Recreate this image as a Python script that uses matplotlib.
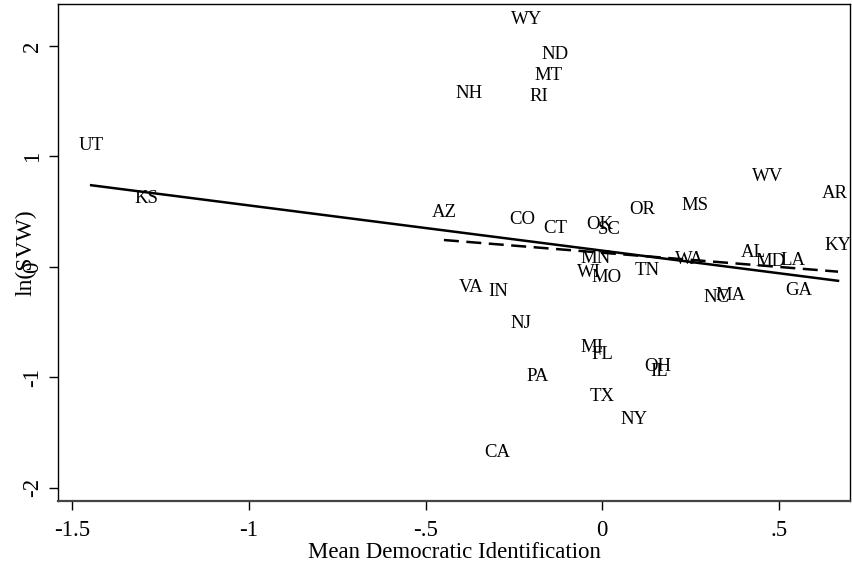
import matplotlib.pyplot as plt
import numpy as np

plt.rcParams['font.family'] = ['Liberation Serif', 'DejaVu Serif']

states = ['WY', 'ND', 'MT', 'NH', 'RI', 'UT', 'KS', 'AZ', 'CO', 'CT',
          'OK', 'SC', 'OR', 'MS', 'WV', 'AR', 'KY', 'AL', 'MD', 'LA',
          'WA', 'TN', 'MN', 'WI', 'MO', 'VA', 'IN', 'NC', 'MA', 'GA',
          'NJ', 'MI', 'FL', 'OH', 'IL', 'PA', 'TX', 'NY', 'CA']
mean_dem = [-0.213, -0.134, -0.151, -0.377, -0.179, -1.446, -1.291, -0.448, -0.227, -0.134,
            -0.006, 0.019, 0.112, 0.262, 0.469, 0.658, 0.667, 0.426, 0.477, 0.540,
            0.248, 0.127, -0.018, -0.037, 0.013, -0.371, -0.295, 0.322, 0.364, 0.557,
            -0.230, -0.029, 0.000, 0.158, 0.161, -0.182, 0.000, 0.090, -0.298]
ln_svw = [2.24, 1.92, 1.73, 1.57, 1.54, 1.095, 0.62, 0.49, 0.43, 0.35,
          0.38, 0.34, 0.52, 0.56, 0.82, 0.66, 0.19, 0.13, 0.045, 0.054,
          0.063, -0.036, 0.08, -0.054, -0.10, -0.19, -0.22, -0.28, -0.26, -0.21,
          -0.51, -0.73, -0.79, -0.90, -0.95, -0.99, -1.17, -1.38, -1.68]

# fitted lines: all states (solid) and without UT, KS (dashed)
fit_all = (0.147, -0.4095)
fit_sub = (0.128, -0.257)
excluded = ['UT', 'KS']

x = np.array(mean_dem)
y = np.array(ln_svw)
keep = np.array([s not in excluded for s in states])

fig = plt.figure(figsize=(8.52, 5.7), dpi=100)
ax = fig.add_axes([0.068, 0.121, 0.9297, 0.872])

for s, xi, yi in zip(states, x, y):
    ax.text(xi, yi, s, ha='center', va='center', fontsize=13.5, color='black')

xs = np.array([x.min(), x.max()])
ax.plot(xs, fit_all[0] + fit_all[1] * xs, color='black', lw=1.8)
xd = np.array([x[keep].min(), x[keep].max()])
ax.plot(xd, fit_sub[0] + fit_sub[1] * xd, color='black', lw=1.8, ls=(0, (6, 3)))

ax.set_xlim(-1.54, 0.701)
ax.set_ylim(-2.12, 2.38)
ax.set_xticks([-1.5, -1, -0.5, 0, 0.5])
ax.set_xticklabels(['-1.5', '-1', '-.5', '0', '.5'])
ax.set_yticks([-2, -1, 0, 1, 2])
ax.set_yticklabels(['-2', '-1', '0', '1', '2'], rotation=90, va='center')
ax.tick_params(direction='out', length=6.5, width=1, labelsize=16.5, pad=4)
ax.tick_params(axis='x', pad=7)

ax.set_xlabel('Mean Democratic Identification', fontsize=16.5, labelpad=1)
ax.set_ylabel('ln(SVW)', fontsize=17, labelpad=-10)

for sp in ax.spines.values():
    sp.set_linewidth(1)
ax.spines['bottom'].set_linewidth(1.6)
ax.spines['bottom'].set_color('#444444')

fig.savefig('out.png', dpi=100)
